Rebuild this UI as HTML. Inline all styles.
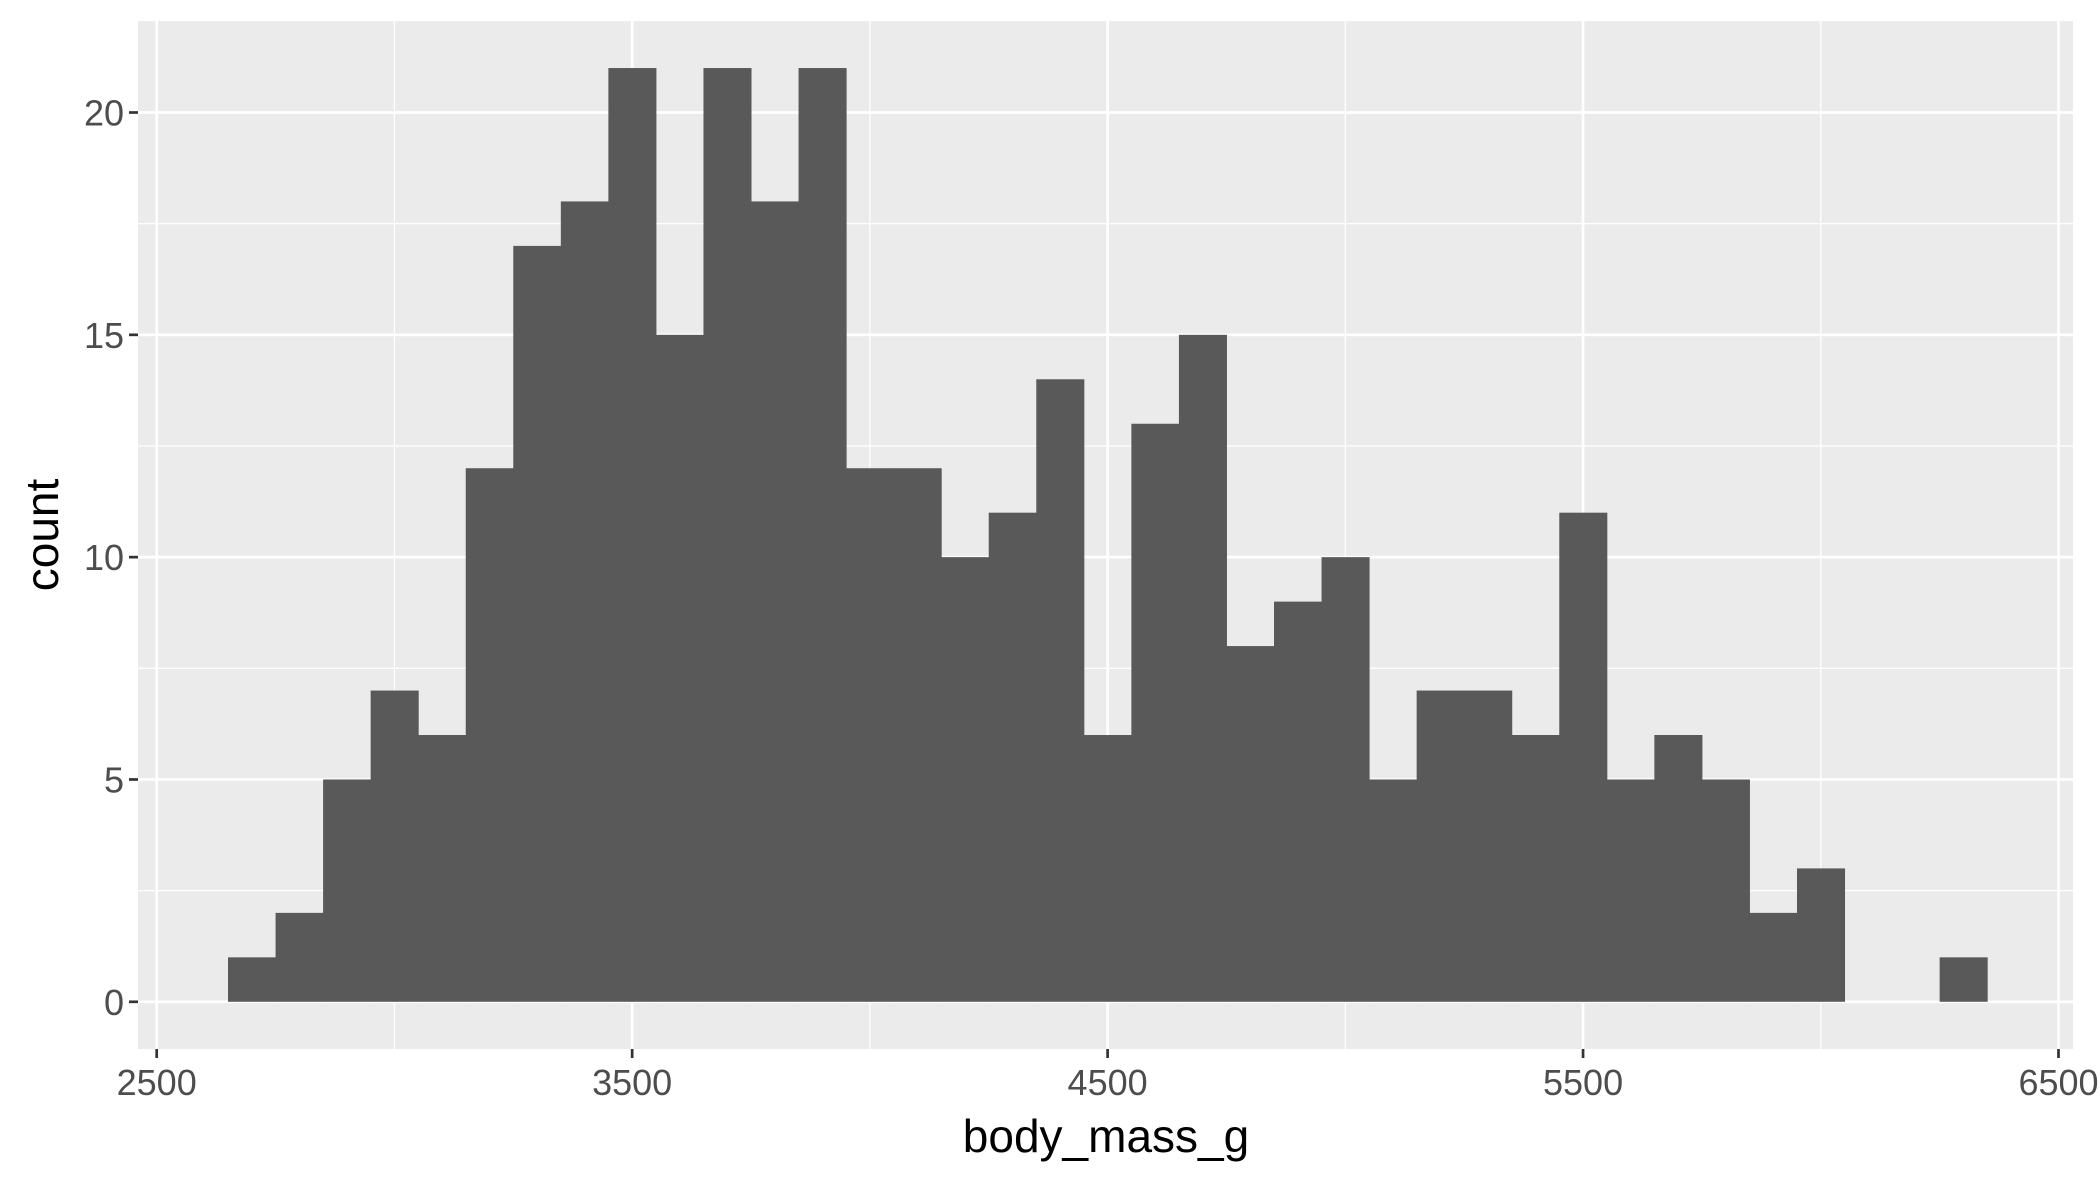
<!DOCTYPE html>
<html><head><meta charset="utf-8"><style>
html,body{margin:0;padding:0;background:#fff;}
svg{display:block;font-family:"Liberation Sans",Arial,sans-serif;}
</style></head><body>
<svg id="chart" width="2100" height="1181" viewBox="0 0 2100 1181">
<rect x="138" y="21" width="1935" height="1028" fill="#ebebeb"/>
<g id="grid"></g><g id="bars"></g><g id="axes"></g>
<text x="1106" y="1152" font-size="46" text-anchor="middle" fill="#000">body_mass_g</text>
<text transform="translate(58,535) rotate(-90)" font-size="46" text-anchor="middle" fill="#000">count</text>
</svg>
<script>
const binStart = 2650;
const binWidth = 100;
const counts = [1,2,5,7,6,12,17,18,21,15,21,18,21,12,12,10,11,14,6,13,15,8,9,10,5,7,7,6,11,5,6,5,2,3,0,0,1];
const xTicks = [2500,3500,4500,5500,6500];
const xMinor = [3000,4000,5000,6000];
const yTicks = [0,5,10,15,20];
const yMinor = [2.5,7.5,12.5,17.5];

const NS='http://www.w3.org/2000/svg';
const X = v => 156.7 + (v-2500)*(2058.5-156.7)/4000;
const Y = v => 1001.8 - v*44.465;
const PL=138, PR=2073, PT=21, PB=1049;
function mk(tag, attrs, parent){const e=document.createElementNS(NS,tag);for(const k in attrs)e.setAttribute(k,attrs[k]);parent.appendChild(e);return e;}
const grid=document.getElementById('grid'), bars=document.getElementById('bars'), axes=document.getElementById('axes');
yMinor.forEach(v=>{const l=mk('line',{x1:PL,x2:PR,y1:Y(v),y2:Y(v),stroke:'#fff','stroke-width':1.3},grid);

});
xMinor.forEach(v=>{const l=mk('line',{x1:X(v),x2:X(v),y1:PT,y2:PB,stroke:'#fff','stroke-width':1.3},grid);

});
yTicks.forEach(v=>{const l=mk('line',{x1:PL,x2:PR,y1:Y(v),y2:Y(v),stroke:'#fff','stroke-width':2.7},grid);


const t=mk('line',{x1:PL-9,x2:PL,y1:Y(v),y2:Y(v),stroke:'#333','stroke-width':2.7},axes);


const tx=mk('text',{x:PL-14,y:Y(v)+13,'font-size':36,'text-anchor':'end',fill:'#4d4d4d'},axes);tx.textContent=v;

});
xTicks.forEach(v=>{const l=mk('line',{x1:X(v),x2:X(v),y1:PT,y2:PB,stroke:'#fff','stroke-width':2.7},grid);


const t=mk('line',{x1:X(v),x2:X(v),y1:PB,y2:PB+9,stroke:'#333','stroke-width':2.7},axes);


const tx=mk('text',{x:X(v),y:PB+46,'font-size':36,'text-anchor':'middle',fill:'#4d4d4d'},axes);tx.textContent=v;

});
counts.forEach((c,i)=>{if(c<=0)return;const x0=X(binStart+i*binWidth),x1=X(binStart+(i+1)*binWidth);
const r=mk('rect',{x:x0,y:Y(c),width:x1-x0+0.5,height:Y(0)-Y(c),fill:'#595959'},bars);

});
</script>
</body></html>
